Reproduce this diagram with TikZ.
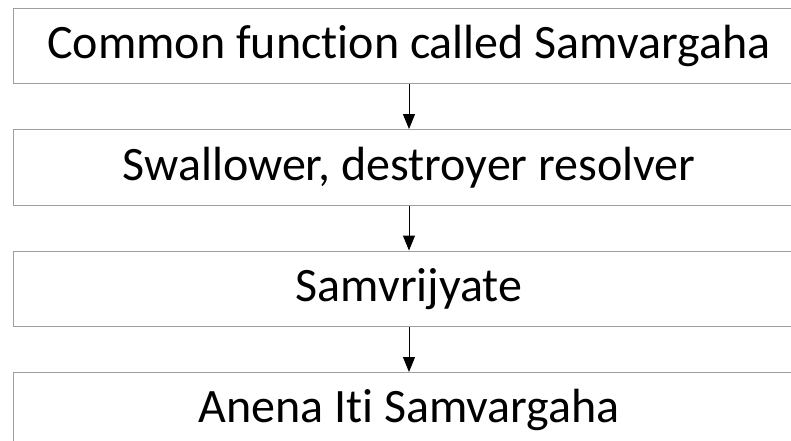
\documentclass[tikz,border=0pt]{standalone}
\usepackage{fontspec}
\setmainfont[RawFeature={-liga;-clig;-dlig}]{Carlito}
\usetikzlibrary{positioning,arrows.meta}
\tikzset{
  stagebox/.style={draw=black!38, line width=1pt, minimum width=792pt, minimum height=75.5pt,
    inner sep=0pt, font=\fontsize{48}{50}\selectfont},
  flowarrow/.style={line width=1pt, -{Triangle[width=12pt,length=15pt]}}
}
\begin{document}
\begin{tikzpicture}[x=1pt, y=-1pt, node distance=45pt]
            \useasboundingbox (0,0) rectangle (791,440);
            \node[stagebox] (common) at (409,45.75) {Common function called Samvargaha};
            \node[stagebox, below=of common] (swallower) {Swallower, destroyer resolver};
            \node[stagebox, below=of swallower] (samvrijyate) {Samvrijyate};
            \node[stagebox, below=of samvrijyate] (anena) {Anena Iti Samvargaha};
            \draw [flowarrow] (common) -- (swallower);
            \draw [flowarrow] (swallower) -- (samvrijyate);
            \draw [flowarrow] (samvrijyate) -- (anena);
        \end{tikzpicture}
\end{document}
